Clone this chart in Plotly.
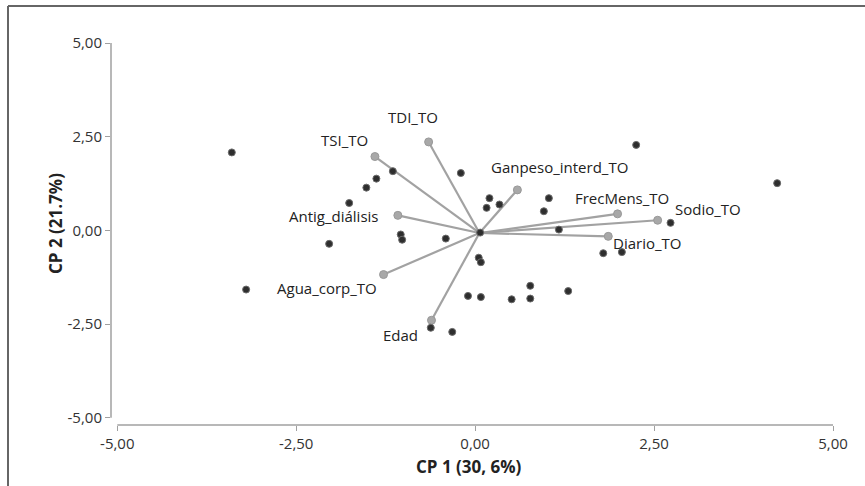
import plotly.graph_objects as go

# ---- data ----
score_x = [-3.40, -3.20, -1.15, -1.38, -1.52, -1.76, -0.20, 0.20, 0.16, 0.34,
           1.03, 0.96, -1.04, -1.02, -0.41, -2.04, 0.07, 1.17, 0.05, 0.08,
           -0.10, 0.08, 0.51, 0.77, 0.77, 1.30, -0.62, -0.32, 1.79, 2.05,
           2.25, 4.22, 2.73]
score_y = [2.08, -1.58, 1.58, 1.38, 1.14, 0.73, 1.53, 0.86, 0.60, 0.69,
           0.86, 0.51, -0.11, -0.25, -0.22, -0.36, -0.06, 0.02, -0.73, -0.85,
           -1.75, -1.78, -1.84, -1.48, -1.82, -1.62, -2.60, -2.71, -0.61, -0.58,
           2.28, 1.26, 0.20]

var_names = ["TDI_TO", "TSI_TO", "Ganpeso_interd_TO", "FrecMens_TO", "Sodio_TO",
             "Diario_TO", "Antig_diálisis", "Agua_corp_TO", "Edad"]
load_x = [-0.65, -1.40, 0.59, 1.99, 2.55, 1.86, -1.08, -1.28, -0.61]
load_y = [2.36, 1.97, 1.08, 0.44, 0.27, -0.16, 0.40, -1.18, -2.40]
origin = [0.06, -0.07]

tick_vals = [-5, -2.5, 0, 2.5, 5]
tick_text = ["-5,00", "-2,50", "0,00", "2,50", "5,00"]

x_title = "CP 1 (30, 6%)"
y_title = "CP 2 (21.7%)"

# ---- label placement (style) ----
label_style = {
    "TDI_TO": dict(xanchor="center", xshift=-16, yshift=25),
    "TSI_TO": dict(xanchor="right", xshift=-5, yshift=17),
    "Ganpeso_interd_TO": dict(xanchor="left", xshift=-28, yshift=23),
    "FrecMens_TO": dict(xanchor="left", xshift=-45, yshift=16),
    "Sodio_TO": dict(xanchor="left", xshift=15, yshift=11),
    "Diario_TO": dict(xanchor="left", xshift=3, yshift=-7),
    "Antig_diálisis": dict(xanchor="right", xshift=-17, yshift=-1),
    "Agua_corp_TO": dict(xanchor="right", xshift=-5, yshift=-13),
    "Edad": dict(xanchor="right", xshift=-11, yshift=-15),
}

FONT = "Open Sans"
fig = go.Figure()

# loading vectors
for nm, lx, ly in zip(var_names, load_x, load_y):
    fig.add_trace(go.Scatter(x=[origin[0], lx], y=[origin[1], ly], mode="lines",
                             line=dict(color="#a2a2a2", width=2.2),
                             hoverinfo="skip", showlegend=False))
fig.add_trace(go.Scatter(x=load_x, y=load_y, mode="markers",
                         marker=dict(color="#a8a8a8", size=8,
                                     line=dict(color="#999999", width=1)),
                         hoverinfo="skip", showlegend=False))
# scores
fig.add_trace(go.Scatter(x=score_x, y=score_y, mode="markers",
                         marker=dict(color="#2e2e2e", size=7,
                                     line=dict(color="#6a6a6a", width=1)),
                         hoverinfo="skip", showlegend=False))

for nm, lx, ly in zip(var_names, load_x, load_y):
    st = label_style[nm]
    fig.add_annotation(x=lx, y=ly, text=nm, showarrow=False,
                       xanchor=st["xanchor"], yanchor="middle",
                       xshift=st["xshift"], yshift=st["yshift"],
                       font=dict(family=FONT, size=15, color="#222222"))

ML, MR, MT, MB = 111, 32, 43, 61
W, H = 865, 486
pw, ph = W - ML - MR, H - MT - MB

# axis titles
fig.add_annotation(xref="paper", yref="paper", x=(469 - ML) / pw, y=(H - MB - 466.5) / ph,
                   text="<b>" + x_title + "</b>", showarrow=False,
                   xanchor="center", yanchor="middle",
                   font=dict(family=FONT, size=17, color="#222222"))
fig.add_annotation(xref="paper", yref="paper", x=(55 - ML) / pw, y=(H - MB - 224) / ph,
                   text="<b>" + y_title + "</b>", showarrow=False, textangle=-90,
                   xanchor="center", yanchor="middle",
                   font=dict(family=FONT, size=17, color="#222222"))

# axis lines (offset style)
fig.add_shape(type="line", xref="x", yref="paper", x0=-5, x1=5, y0=0, y1=0,
              line=dict(color="#a0a0a0", width=1.5))
fig.add_shape(type="line", xref="paper", yref="y", x0=0, x1=0, y0=-5, y1=5,
              line=dict(color="#a0a0a0", width=1.5))
# outer frame (left and top)
fx = (8 - ML) / pw
fy = (H - MB - 6) / ph
fig.add_shape(type="line", xref="paper", yref="paper", x0=fx, x1=(W - ML) / pw,
              y0=fy, y1=fy, line=dict(color="#666666", width=2))
fig.add_shape(type="line", xref="paper", yref="paper", x0=fx, x1=fx,
              y0=fy, y1=-(MB + 2) / ph, line=dict(color="#666666", width=2))

fig.update_layout(
    width=W, height=H,
    margin=dict(l=ML, r=MR, t=MT, b=MB),
    plot_bgcolor="white", paper_bgcolor="white",
    font=dict(family=FONT, color="#333333"),
    xaxis=dict(range=[-5 - 6.3 / 71.6, 5], tickvals=tick_vals, ticktext=tick_text,
               showgrid=False, zeroline=False, showline=False,
               ticks="outside", ticklen=5, tickcolor="#a0a0a0",
               tickfont=dict(family=FONT, size=15, color="#333333")),
    yaxis=dict(range=[-5 - 7.3 / 37.5, 5], tickvals=tick_vals, ticktext=tick_text,
               showgrid=False, zeroline=False, showline=False,
               ticks="outside", ticklen=5, tickcolor="#a0a0a0",
               tickfont=dict(family=FONT, size=15, color="#333333")),
    hovermode=False,
)

fig.write_html("out.html", config={"displayModeBar": False},
               post_script="document.body.style.margin='0px';")
